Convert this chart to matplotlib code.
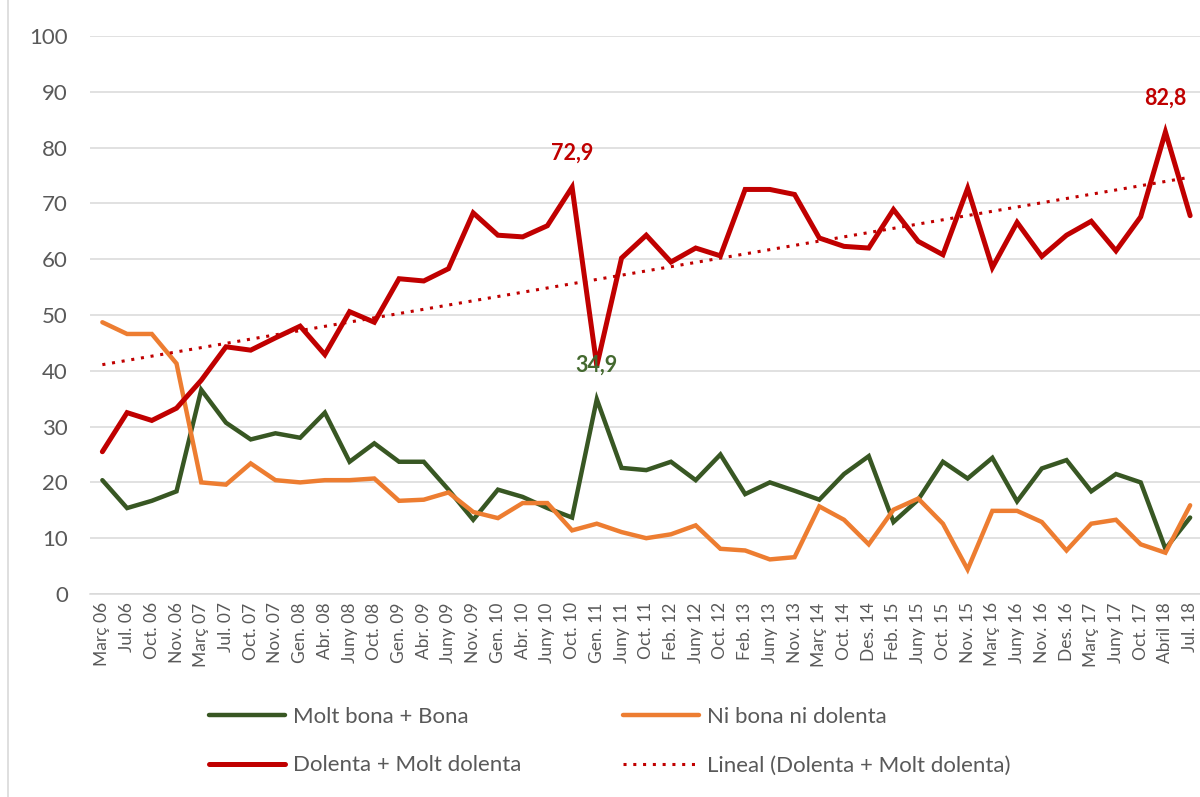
import numpy as np
import matplotlib
matplotlib.use("Agg")
import matplotlib.pyplot as plt
from matplotlib.lines import Line2D

plt.rcParams['font.family'] = ['Lato', 'DejaVu Sans']

labels = ["Març 06", "Jul. 06", "Oct. 06", "Nov. 06", "Març 07", "Jul. 07", "Oct. 07", "Nov. 07",
          "Gen. 08", "Abr. 08", "Juny 08", "Oct. 08", "Gen. 09", "Abr. 09", "Juny 09", "Nov. 09",
          "Gen. 10", "Abr. 10", "Juny 10", "Oct. 10", "Gen. 11", "Juny 11", "Oct. 11", "Feb. 12",
          "Juny 12", "Oct. 12", "Feb. 13", "Juny 13", "Nov. 13", "Març 14", "Oct. 14", "Des. 14",
          "Feb. 15", "Juny 15", "Oct. 15", "Nov. 15", "Març 16", "Juny 16", "Nov. 16", "Des. 16",
          "Març 17", "Juny 17", "Oct. 17", "Abril 18", "Jul. 18"]

bona = [20.4, 15.4, 16.7, 18.4, 36.6, 30.7, 27.7, 28.8, 28.0, 32.5, 23.7, 27.0, 23.7, 23.7, 18.7,
        13.3, 18.7, 17.4, 15.4, 13.7, 34.9, 22.6, 22.2, 23.7, 20.4, 25.0, 17.9, 20.0, 18.5, 16.9,
        21.5, 24.7, 12.9, 16.9, 23.7, 20.7, 24.4, 16.6, 22.5, 24.0, 18.4, 21.5, 20.0, 8.1, 13.7]

ni = [48.7, 46.6, 46.6, 41.3, 20.0, 19.6, 23.4, 20.4, 20.0, 20.4, 20.4, 20.7, 16.7, 16.9, 18.2,
      14.7, 13.6, 16.3, 16.3, 11.4, 12.6, 11.1, 10.0, 10.7, 12.3, 8.1, 7.8, 6.2, 6.6, 15.7,
      13.3, 8.9, 15.1, 17.1, 12.6, 4.4, 14.9, 14.9, 12.9, 7.8, 12.6, 13.3, 8.9, 7.4, 15.9]

dolenta = [25.5, 32.5, 31.1, 33.3, 38.3, 44.3, 43.7, 45.9, 48.0, 42.9, 50.6, 48.7, 56.5, 56.1, 58.3,
           68.3, 64.3, 64.0, 66.0, 72.9, 40.9, 60.2, 64.3, 59.5, 62.0, 60.6, 72.5, 72.5, 71.6, 63.8,
           62.3, 62.0, 68.9, 63.2, 60.8, 72.7, 58.5, 66.6, 60.5, 64.3, 66.8, 61.5, 67.6, 82.8, 67.8]

annotations = [(19, "72,9", "dolenta"), (43, "82,8", "dolenta"), (20, "34,9", "bona")]

C_GREEN = "#385723"
C_GREEN_TXT = "#44692F"
C_ORANGE = "#ED7D31"
C_RED = "#C00000"
C_TEXT = "#595959"
C_GRID = "#D9D9D9"

W, H = 1200, 797
fig = plt.figure(figsize=(W / 100, H / 100), dpi=100)
left, right, top, bottom = 90, 1202.5, 36, 594
ax = fig.add_axes([left / W, 1 - bottom / H, (right - left) / W, (bottom - top) / H])

x = np.arange(len(labels))
l1, = ax.plot(x, bona, color=C_GREEN, lw=3.2, solid_joinstyle='miter', solid_capstyle='round', zorder=3)
l2, = ax.plot(x, ni, color=C_ORANGE, lw=3.2, solid_joinstyle='miter', solid_capstyle='round', zorder=3)
l3, = ax.plot(x, dolenta, color=C_RED, lw=3.6, solid_joinstyle='miter', solid_capstyle='round', zorder=4)

coef = np.polyfit(x, dolenta, 1)
trend = np.polyval(coef, x)
l4, = ax.plot(x, trend, color=C_RED, lw=2.2, linestyle=(0, (1, 2.2)), zorder=5)

series = {"dolenta": (dolenta, C_RED), "bona": (bona, C_GREEN_TXT)}
for idx, txt, key in annotations:
    vals, col = series[key]
    ax.annotate(txt, (idx, vals[idx]), xytext=(0, 24.5), textcoords='offset points',
                ha='center', va='center', color=col, fontsize=15.5, fontweight='bold', zorder=6)

ax.set_xlim(-0.5, 44.5)
ax.set_ylim(0, 100)
ax.set_yticks(range(0, 101, 10))
ax.yaxis.grid(True, color=C_GRID, lw=1.1)
ax.set_axisbelow(True)
for s in ['top', 'right', 'left']:
    ax.spines[s].set_visible(False)
ax.spines['bottom'].set_color(C_GRID)
ax.spines['bottom'].set_linewidth(1.1)
ax.tick_params(axis='y', length=0, pad=16, labelsize=16, labelcolor=C_TEXT)
ax.set_xticks(x)
ax.set_xticklabels(labels, rotation=90, ha='center', va='top')
ax.tick_params(axis='x', length=0, pad=6, labelsize=12.5, labelcolor=C_TEXT)

# left border of chart area
fig.add_artist(Line2D([8 / W, 8 / W], [0, 1], color=C_GRID, lw=1.2))

leg = fig.legend([l1, l3, l2, l4],
                 ["Molt bona + Bona", "Dolenta + Molt dolenta", "Ni bona ni dolenta",
                  "Lineal (Dolenta + Molt dolenta)"],
                 ncol=2, loc='center left', bbox_to_anchor=(209 / W, 1 - 741 / H),
                 frameon=False, fontsize=16, handlelength=3.4, handletextpad=0.36,
                 columnspacing=4.6, labelspacing=1.3, borderpad=0, borderaxespad=0)
for t in leg.get_texts():
    t.set_color(C_TEXT)

fig.savefig("out.png", dpi=100, facecolor="white")
